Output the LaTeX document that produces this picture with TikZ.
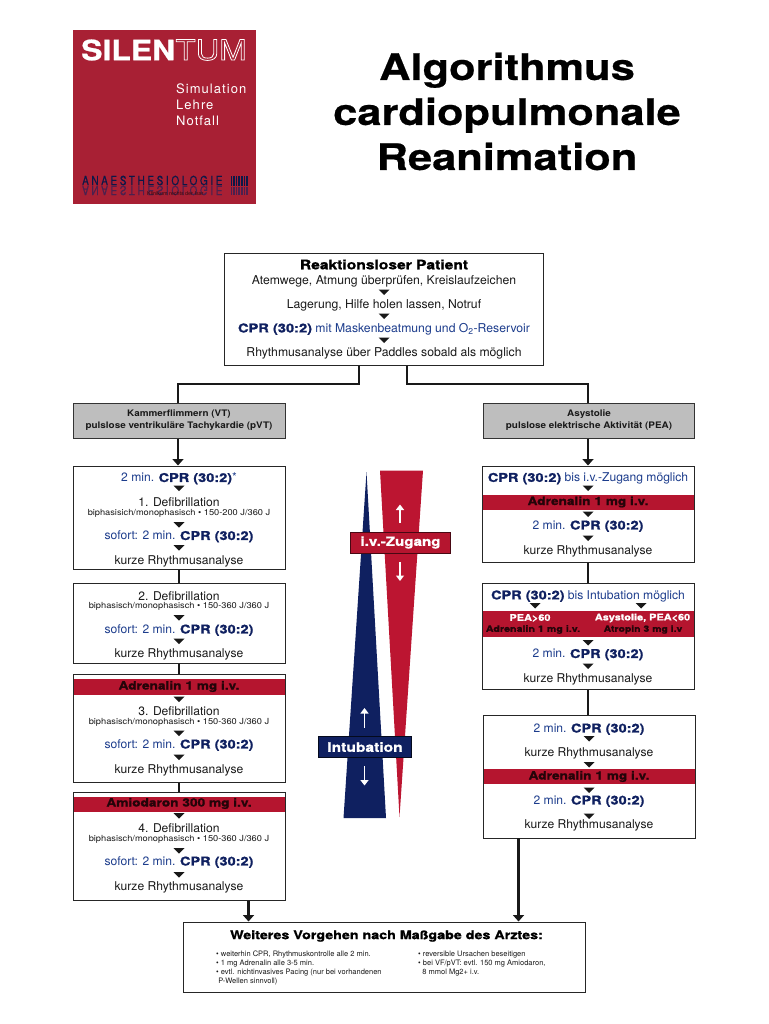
\documentclass[tikz,border=0pt]{standalone}
\usepackage{fontspec}
\setmainfont{TeX Gyre Heros}
\newfontfamily\heavy[FakeStretch=1.2,FakeBold=1.0]{TeX Gyre Heros Bold}
\newfontfamily\headf[FakeStretch=1.19,FakeBold=0.5]{TeX Gyre Heros Bold}
\newfontfamily\semif[FakeStretch=1.1]{TeX Gyre Heros Bold}
\newfontfamily\smf[FakeStretch=1.1]{TeX Gyre Heros}
\newfontfamily\logof[FakeStretch=1.17]{TeX Gyre Heros}
\newfontfamily\logob[FakeStretch=1.14,FakeBold=0.8]{TeX Gyre Heros Bold}
\newfontfamily\condf[FakeStretch=0.8,FakeBold=0.3,LetterSpace=21]{TeX Gyre Heros}
\usetikzlibrary{arrows.meta}
\definecolor{srot}{HTML}{A82034}
\definecolor{bandrot}{HTML}{B5152F}
\definecolor{wedgerot}{HTML}{BC1531}
\definecolor{sblau}{HTML}{0F2060}
\definecolor{tblau}{HTML}{1C3C8C}
\definecolor{grau}{HTML}{BEBEBE}
\newcommand{\cpr}{{\heavy\color{sblau}CPR (30:2)}}
\newcommand{\blau}[1]{{\color{tblau}#1}}
\tikzset{
 x=1pt,y=-1pt,
 frame/.style={draw=black!85,line width=1pt,fill=white},
 greybox/.style={draw=black!80,line width=1pt,fill=grau},
 band/.style={fill=bandrot,draw=none},
 line/.style={draw=black!90,line width=2.2pt},
 linein/.style={draw=black!90,line width=2.2pt,-{Triangle[length=6.5pt,width=11pt]}},
 tx/.style={font=\fontsize{12.1}{13}\selectfont,inner sep=0pt,anchor=center,text=black!90,yshift=-1.2pt},
 txb/.style={font=\fontsize{12.2}{13}\selectfont,inner sep=0pt,anchor=center,text=black!90,yshift=-1.2pt},
 sm/.style={font=\fontsize{8.4}{9}\smf,inner sep=0pt,anchor=center,text=black!90},
 gb/.style={font=\fontsize{9}{11.8}\semif,inner sep=0pt,anchor=center,text=black!90,align=center},
 bandtx/.style={font=\fontsize{11.4}{11}\heavy,inner sep=0pt,anchor=center,text=black!80!bandrot},
 lg/.style={inner sep=0pt,anchor=west,text=white,font=\fontsize{13}{14}\selectfont},
 tip/.style={fill=black!90,draw=none},
}
\newcommand{\tri}[2]{\fill[tip] (#1-5.5,#2-2.5) -- (#1+5.5,#2-2.5) -- (#1,#2+3) -- cycle;}
\begin{document}
\begin{tikzpicture}
\useasboundingbox (0,0) rectangle (768,1024);
\fill[white] (0,0) rectangle (768,1024);
% logo
\fill[srot] (73,30) rectangle (256,204);
\node[inner sep=0pt,anchor=west,text=white,font=\fontsize{28}{30}\logob] (logoa) at (81,50) {SILEN};
\node[inner sep=0pt,anchor=west,text=white,font=\fontsize{28}{30}\logof] (logoc) at (logoa.east) {\special{pdf:code q 1 Tr 0.8 w}TUM\special{pdf:code Q}};
\node[lg] (l1) at (176,89) {\addfontfeatures{LetterSpace=8}Simulation};
\node[lg] (l2) at (176,105) {\addfontfeatures{LetterSpace=8}Lehre};
\node[lg] (l3) at (176,121) {\addfontfeatures{LetterSpace=8}Notfall};
\node[inner sep=0pt,anchor=west,text=sblau!75!black,font=\fontsize{12.5}{13}\condf] (an) at (82,180.5) {ANAESTHESIOLOGIE};
\node[inner sep=0pt,anchor=west,text=sblau!60!srot,yscale=-1,font=\fontsize{12.5}{13}\condf] (anr) at (82,190.5) {ANAESTHESIOLOGIE};
\node[inner sep=0pt,anchor=west,text=black!70!srot,font=\fontsize{5.4}{6}\selectfont] (kl) at (147,193.5) {Klinikum rechts der Isar};
\foreach \i in {0,...,6} \fill[sblau!75!black] (230.5+\i*2.6,176) rectangle ++(1.6,10);
\foreach \i in {0,...,6} \fill[sblau!60!srot] (230.5+\i*2.6,187) rectangle ++(1.6,8);
% title
\node[inner sep=0pt,align=center,font=\fontsize{36.5}{45}\headf] (title) at (507,111.5) {Algorithmus\\cardiopulmonale\\Reanimation};
% connector points
\coordinate (j1) at (359,384);
\coordinate (j2) at (407,384);
\coordinate (j3) at (178,384);
\coordinate (j4) at (588,384);
% boxes
\node[frame,minimum width=319pt,minimum height=112pt,inner sep=0pt] (top) at (383.5,309) {};
\node[greybox,minimum width=212pt,minimum height=35pt,inner sep=0pt] (vt) at (179,420.5) {};
\node[greybox,minimum width=211pt,minimum height=35pt,inner sep=0pt] (as) at (588.5,420.5) {};
\node[frame,minimum width=212pt,minimum height=103pt,inner sep=0pt] (l1b) at (179,517.5) {};
\node[frame,minimum width=212pt,minimum height=80pt,inner sep=0pt] (l2b) at (179,623) {};
\node[frame,minimum width=212pt,minimum height=108pt,inner sep=0pt] (l3b) at (179,728) {};
\node[frame,minimum width=212pt,minimum height=108pt,inner sep=0pt] (l4b) at (179,846) {};
\node[frame,minimum width=212pt,minimum height=96pt,inner sep=0pt] (r1b) at (588,514) {};
\node[frame,minimum width=212pt,minimum height=106pt,inner sep=0pt] (r2b) at (588,636) {};
\node[frame,minimum width=212pt,minimum height=123pt,inner sep=0pt] (r3b) at (589,776.5) {};
\node[frame,minimum width=402pt,minimum height=70pt,inner sep=0pt] (endb) at (384,957) {};
\draw[line] (j1|-top.south) -- (j1) -- (j3) -- (vt.north-|j3);
\draw[line] (j2|-top.south) -- (j2) -- (j4) -- (as.north-|j4);
\draw[linein] (j3|-vt.south) -- (j3|-l1b.north);
\draw[linein] (j4|-as.south) -- (j4|-r1b.north);
\draw[line] (l1b.south) -- (l2b.north);
\draw[line] (l2b.south) -- (l3b.north);
\draw[line] (l3b.south) -- (l4b.north);
\draw[line] (r1b.south) -- (r2b.north);
\draw[line] (r2b.south) -- (r2b.south|-r3b.north);
\coordinate (c1) at (248.5,900.5);
\coordinate (c2) at (518.5,838);
\draw[linein] (c1) -- (c1|-endb.north);
\draw[linein] (c2) -- (c2|-endb.north);
% top box
\node[inner sep=0pt,font=\fontsize{13}{13}\heavy] (t0) at (384,264.5) {Reaktionsloser Patient};
\node[txb] (t1) at (384,280) {Atemwege, Atmung überprüfen, Kreislaufzeichen};
\tri{384}{292}
\node[txb] (t2) at (384,304) {Lagerung, Hilfe holen lassen, Notruf};
\tri{384}{316}
\node[txb] (t3) at (384,328) {\cpr\ \blau{mit Maskenbeatmung und O\textsubscript{2}-Reservoir}};
\tri{384}{340}
\node[txb] (t4) at (384,352) {Rhythmusanalyse über Paddles sobald als möglich};
% grey
\node[gb] (vtt) at (179,420.5) {Kammerflimmern (VT)\\pulslose ventrikuläre Tachykardie (pVT)};
\node[gb] (ast) at (589,420.5) {Asystolie\\pulslose elektrische Aktivität (PEA)};
% L1
\node[tx] (a1) at (179,477.5) {\blau{2 min.} \cpr\blau{*}};
\tri{179}{488}
\node[tx] (a2) at (179,501) {1. Defibrillation};
\node[sm] (a3) at (179,513) {biphasisich/monophasisch • 150-200 J/360 J};
\tri{179}{524.5}
\node[tx] (a4) at (179,535.5) {\blau{sofort: 2 min.} \cpr};
\tri{179}{547.5}
\node[tx] (a5) at (179,560) {kurze Rhythmusanalyse};
% L2
\node[tx] (b2) at (179,594.5) {2. Defibrillation};
\node[sm] (b3) at (179,606) {biphasisch/monophasisch • 150-360 J/360 J};
\tri{179}{617.5}
\node[tx] (b4) at (179,629) {\blau{sofort: 2 min.} \cpr};
\tri{179}{641}
\node[tx] (b5) at (179,653) {kurze Rhythmusanalyse};
% L3
\fill[band] (73.5,679) rectangle (284.5,694.5);
\node[bandtx] (c0) at (179,686.5) {Adrenalin 1 mg i.v.};
\tri{179}{699}
\node[tx] (c2t) at (179,710) {3. Defibrillation};
\node[sm] (c3) at (179,722) {biphasisch/monophasisch • 150-360 J/360 J};
\tri{179}{733}
\node[tx] (c4) at (179,744) {\blau{sofort: 2 min.} \cpr};
\tri{179}{757}
\node[tx] (c5) at (179,769) {kurze Rhythmusanalyse};
% L4
\fill[band] (73.5,797) rectangle (284.5,812);
\node[bandtx] (d0) at (179,803.5) {Amiodaron 300 mg i.v.};
\tri{179}{815.5}
\node[tx] (d2) at (179,827) {4. Defibrillation};
\node[sm] (d3) at (179,839) {biphasisch/monophasisch • 150-360 J/360 J};
\tri{179}{850.5}
\node[tx] (d4) at (179,861) {\blau{sofort: 2 min.} \cpr};
\tri{179}{874.5}
\node[tx] (d5) at (179,886) {kurze Rhythmusanalyse};
% R1
\node[tx] (e1) at (588,477.5) {\cpr\ \blau{bis i.v.-Zugang möglich}};
\tri{588}{488}
\fill[band] (482.5,495) rectangle (693.5,510);
\node[bandtx] (e2) at (588,502) {Adrenalin 1 mg i.v.};
\tri{588}{514}
\node[tx] (e3) at (588,525) {\blau{2 min.} \cpr};
\tri{588}{538}
\node[tx] (e4) at (588,550) {kurze Rhythmusanalyse};
% R2
\node[tx] (f1) at (588,595) {\cpr\ \blau{bis Intubation möglich}};
\tri{535}{605.5}
\tri{641}{605.5}
\fill[band] (482.5,611) rectangle (693.5,637);
\node[inner sep=0pt,text=white,font=\fontsize{9.1}{10}\heavy] (f2) at (530,618) {PEA>60};
\node[inner sep=0pt,text=white,font=\fontsize{9.1}{10}\heavy] (f3) at (642.5,618) {Asystolie, PEA<60};
\node[bandtx,font=\fontsize{8.9}{10}\heavy] (f4) at (533,629.5) {Adrenalin 1 mg i.v.};
\node[bandtx,font=\fontsize{8.7}{10}\heavy] (f5) at (643,629.5) {Atropin 3 mg i.v};
\tri{588}{642.5}
\node[tx] (f6) at (588,653.5) {\blau{2 min.} \cpr};
\tri{588}{666}
\node[tx] (f7) at (588,678) {kurze Rhythmusanalyse};
% R3
\node[tx] (g1) at (589,728) {\blau{2 min.} \cpr};
\tri{589}{738.5}
\node[tx] (g2) at (589,752) {kurze Rhythmusanalyse};
\tri{589}{764.5}
\fill[band] (483.5,769) rectangle (694.5,784);
\node[bandtx] (g3) at (589,776.5) {Adrenalin 1 mg i.v.};
\tri{589}{790}
\node[tx] (g4) at (589,800) {\blau{2 min.} \cpr};
\tri{589}{816}
\node[tx] (g5) at (589,824) {kurze Rhythmusanalyse};
% wedges
\fill[sblau] (366.5,472) -- (343.5,818) -- (386,818) -- cycle;
\fill[wedgerot] (380,470.5) -- (423,470.5) -- (399.5,817) -- cycle;
\node[draw=black!60!bandrot,line width=.8pt,fill=bandrot,minimum width=100pt,minimum height=21pt,inner sep=0pt,text=white,font=\fontsize{12.6}{13}\heavy] (iv) at (400.5,542.5) {i.v.-Zugang};
\node[draw=black!70!sblau,line width=.8pt,fill=sblau,minimum width=93pt,minimum height=21pt,inner sep=0pt,text=white,font=\fontsize{13}{13}\heavy] (intu) at (365,747) {Intubation};
\coordinate (w1) at (400,523); \coordinate (w1t) at (400,504.5);
\coordinate (w2) at (400,562); \coordinate (w2t) at (400,581);
\coordinate (w3) at (364.5,727.5); \coordinate (w3t) at (364.5,708);
\coordinate (w4) at (364.5,766); \coordinate (w4t) at (364.5,785.5);
\foreach \a/\b in {w1/w1t,w2/w2t,w3/w3t,w4/w4t}
  \draw[white,line width=1.5pt,-{Triangle[length=5.5pt,width=8pt]}] (\a) -- (\b);
% end box
\node[inner sep=0pt,font=\fontsize{11.9}{13}\heavy] (h0) at (386.5,936) {Weiteres Vorgehen nach Maßgabe des Arztes:};
\node[inner sep=0pt,anchor=north west,align=left,font=\fontsize{7.5}{9}\selectfont,text=black!90] (h1) at (216,951) {• weiterhin CPR, Rhythmuskontrolle alle 2 min.\\• 1 mg Adrenalin alle 3-5 min.\\• evtl. nichtinvasives Pacing (nur bei vorhandenen\\\ P-Wellen sinnvoll)};
\node[inner sep=0pt,anchor=north west,align=left,font=\fontsize{7.5}{9}\selectfont,text=black!90] (h2) at (418,951) {• reversible Ursachen beseitigen\\• bei VF/pVT: evtl. 150 mg Amiodaron,\\\ \ 8 mmol Mg2+ i.v.};
\end{tikzpicture}
\end{document}
